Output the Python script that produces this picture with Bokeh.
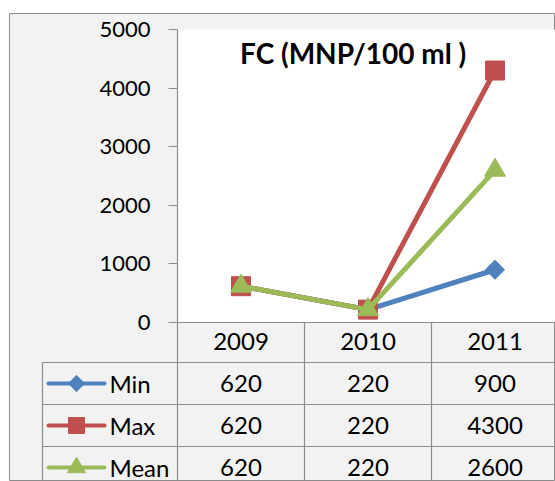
from bokeh.plotting import figure
from bokeh.models import LinearAxis, FixedTicker, ColumnDataSource, Range1d
from bokeh.core.properties import value
from bokeh.embed import file_html
from bokeh.resources import INLINE
import math

# ---------------- data ----------------
categories = ["2009", "2010", "2011"]
series_names = ["Min", "Max", "Mean"]
min_values = [620, 220, 900]
max_values = [620, 220, 4300]
mean_values = [620, 220, 2600]
y_ticks = [0, 1000, 2000, 3000, 4000, 5000]
title_text = "FC  (MNP/100 ml )"

series_values = [min_values, max_values, mean_values]
series_colors = ["#4F81BD", "#C0504D", "#9BBB59"]

# ---------------- page geometry (pixels) ----------------
PAGE_L, PAGE_T, PAGE_R, PAGE_B = 0, 0, 555, 481
FRAME_L, FRAME_T = 9, 13
PLOT_L = 177          # left edge of the plot area / first category column
CW = 127.0            # category column width
X0 = PLOT_L + CW / 2  # centre of first category
Y0 = 322.0            # value 0
YTOP = 29.0           # value 5000
YS = 5000.0 / (Y0 - YTOP)
TABLE_L = 42
ROW_TOP = 362
ROW_H = 42


def xd(px):
    return (px - X0) / CW


def yd(py):
    return (Y0 - py) * YS


W = PAGE_R - PAGE_L
H = PAGE_B - PAGE_T

p = figure(width=W, height=H, output_backend="svg", toolbar_location=None,
           x_axis_type=None, y_axis_type=None,
           x_range=Range1d(xd(FRAME_L), xd(PAGE_R)),
           y_range=Range1d(yd(PAGE_B), yd(FRAME_T)),
           min_border_left=FRAME_L - PAGE_L, min_border_top=FRAME_T - PAGE_T,
           min_border_right=0, min_border_bottom=0)
p.background_fill_color = "#F2F2F2"
p.border_fill_color = "white"
p.outline_line_color = "#8C8C8C"
p.outline_line_width = 1

grid_color = "#8C8C8C"
n = len(categories)
right_x = xd(PAGE_R) + 1

# white plot area
p.quad(left=[xd(PLOT_L)], right=[right_x], bottom=[0], top=[max(y_ticks)],
       fill_color="white", line_color=None)

# table grid lines
bottom_y = yd(PAGE_B) - 100
vx = [xd(PLOT_L)] + [i + 0.5 for i in range(n - 1)] + [xd(TABLE_L)]
vy0 = [max(y_ticks)] + [0] * (n - 1) + [yd(ROW_TOP)]
p.segment(x0=vx, y0=vy0, x1=vx, y1=[bottom_y] * len(vx), line_color=grid_color, line_width=1.2)
hy = [0] + [yd(ROW_TOP + i * ROW_H) for i in range(len(series_names))]
hx0 = [xd(PLOT_L)] + [xd(TABLE_L)] * len(series_names)
p.segment(x0=hx0, y0=hy, x1=[right_x] * len(hy), y1=hy, line_color=grid_color, line_width=1.2)

# axes
yaxis = LinearAxis(fixed_location=xd(PLOT_L), ticker=FixedTicker(ticks=y_ticks))
yaxis.axis_line_color = None
yaxis.major_tick_out = 9
yaxis.major_tick_in = 0
yaxis.minor_tick_out = 0
yaxis.minor_tick_in = 0
yaxis.major_tick_line_color = grid_color
yaxis.major_label_text_font = "Lato"
yaxis.major_label_text_font_size = "22px"
yaxis.major_label_text_color = "black"
yaxis.major_label_standoff = 18
p.add_layout(yaxis, "left")

xaxis = LinearAxis(fixed_location=0, ticker=FixedTicker(ticks=list(range(n))),
                   major_label_overrides={i: c for i, c in enumerate(categories)})
xaxis.axis_line_color = None
xaxis.major_tick_out = 0
xaxis.major_tick_in = 0
xaxis.minor_tick_out = 0
xaxis.minor_tick_in = 0
xaxis.major_label_text_font = "Lato"
xaxis.major_label_text_font_size = "24px"
xaxis.major_label_text_color = "black"
xaxis.major_label_standoff = 10
p.add_layout(xaxis, "below")

# series lines + markers
xs = list(range(n))
for vals, col, name in zip(series_values, series_colors, series_names):
    p.line(xs, vals, line_color=col, line_width=5, line_join="round", line_cap="round")
    if name == "Min":
        p.scatter(xs, vals, marker="square", angle=math.pi / 4, size=13.5,
                  fill_color=col, line_color=col)
    elif name == "Max":
        p.scatter(xs, vals, marker="square", size=19, fill_color=col, line_color=col)
    else:
        p.scatter(xs, vals, marker="triangle", size=21, fill_color=col, line_color=col)

# title
p.text(x=[xd(356)], y=[yd(52)], text=[title_text], text_font=value("Lato"),
       text_font_style="bold", text_font_size="28px", text_align="center",
       text_baseline="middle", text_color="black")

# table rows: legend swatches, names and values
row_y = [yd(ROW_TOP + (i + 0.5) * ROW_H) for i in range(len(series_names))]
for i, (col, name) in enumerate(zip(series_colors, series_names)):
    p.line([xd(48), xd(104)], [row_y[i]] * 2, line_color=col, line_width=4, line_cap="round")
    if name == "Min":
        p.scatter([xd(76)], [row_y[i]], marker="square", angle=math.pi / 4, size=11.5,
                  fill_color=col, line_color=col)
    elif name == "Max":
        p.scatter([xd(76)], [row_y[i]], marker="square", size=16, fill_color=col, line_color=col)
    else:
        p.scatter([xd(76)], [row_y[i]], marker="triangle", size=18, fill_color=col, line_color=col)

name_src = ColumnDataSource(dict(x=[xd(109)] * len(series_names), y=row_y, t=series_names))
p.text(x="x", y="y", text="t", source=name_src, text_font=value("Lato"),
       text_font_size="24px", text_align="left", text_baseline="middle", text_color="black")

tx, ty, tt = [], [], []
for i, vals in enumerate(series_values):
    for j, v in enumerate(vals):
        tx.append(j)
        ty.append(row_y[i])
        tt.append(str(v))
val_src = ColumnDataSource(dict(x=tx, y=ty, t=tt))
p.text(x="x", y="y", text="t", source=val_src, text_font=value("Lato"),
       text_font_size="24px", text_align="center", text_baseline="middle", text_color="black")

open("out.html", "w").write(file_html(p, INLINE))
